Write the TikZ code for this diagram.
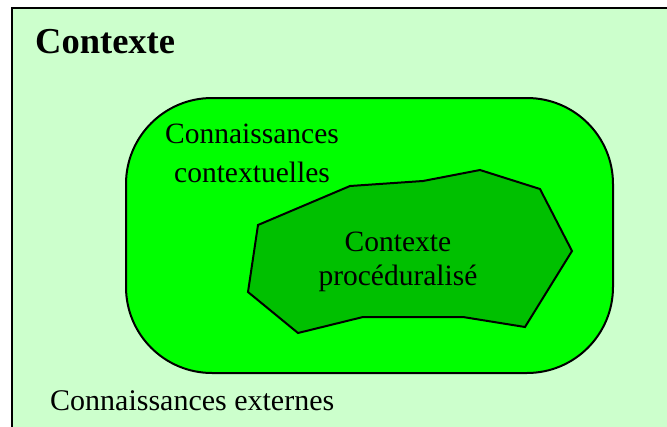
\documentclass[tikz,border=0pt]{standalone}
\usepackage{fontspec}
\setmainfont{Liberation Serif}
\definecolor{outerfill}{RGB}{204,255,204}
\definecolor{midfill}{RGB}{0,255,0}
\definecolor{innerfill}{RGB}{0,192,0}
\begin{document}
\begin{tikzpicture}[x=1pt,y=-1pt,
  outline/.style={draw=black,line width=2pt},
  lbl/.style={inner sep=0pt,font=\fontsize{29.5}{36}\selectfont,align=center},
  titlelbl/.style={inner sep=0pt,font=\bfseries\fontsize{36.5}{40}\selectfont}]
\useasboundingbox (0,0) rectangle (667,426);
\fill[white] (0,0) rectangle (667,426);
\clip (0,0) rectangle (667,426);
\draw[outline,line width=2.5pt,fill=outerfill] (12,8) rectangle (690,450);
\draw[outline,fill=midfill,rounded corners=86pt] (126,98) rectangle (613,373);
\draw[outline,fill=innerfill] (258,225) -- (350,186) -- (423,181) -- (480,170) -- (540,189) -- (572,251) -- (525,327) -- (463,317) -- (363,317) -- (298,333) -- (248,292) -- cycle;
\node[titlelbl,anchor=base west] (title) at (35,53) {Contexte};
\node[lbl,anchor=base,font=\fontsize{29.5}{39}\selectfont] (cc) at (252,182) {Connaissances\\contextuelles};
\node[lbl,anchor=base,font=\fontsize{29.5}{34}\selectfont] (cp) at (398,285) {Contexte\\procéduralisé};
\node[lbl,anchor=base west,font=\fontsize{30}{36}\selectfont] (ce) at (50,410) {Connaissances externes};
\end{tikzpicture}
\end{document}
